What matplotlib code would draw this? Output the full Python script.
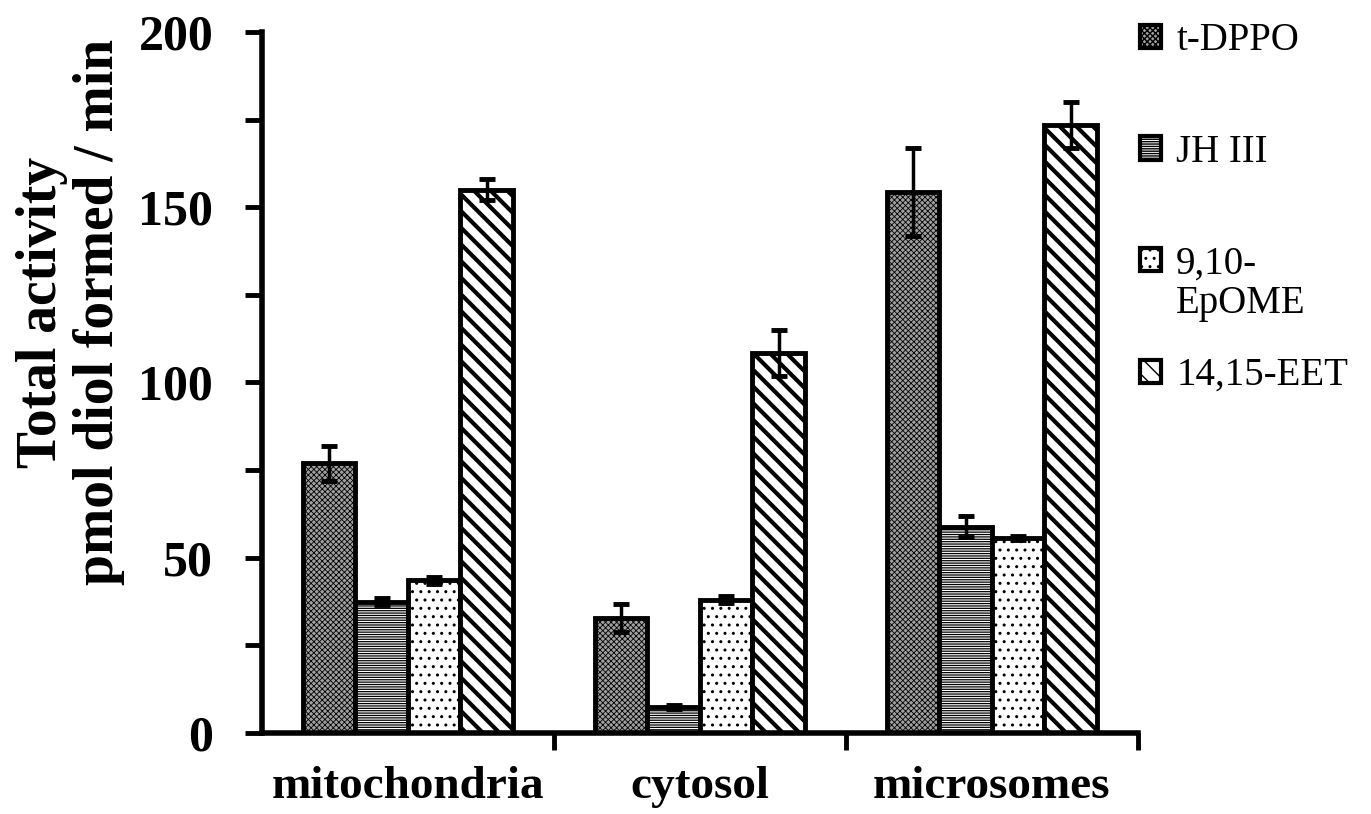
import matplotlib
matplotlib.use("Agg")
import matplotlib.pyplot as plt
import numpy as np

categories = ["mitochondria", "cytosol", "microsomes"]
series = ["t-DPPO", "JH III", "9,10-EpOME", "14,15-EET"]
legend_labels = ["t-DPPO", "JH III", "9,10-", "14,15-EET"]
values = {
    "t-DPPO": [77, 32.8, 154.4],
    "JH III": [37.4, 7.4, 58.8],
    "9,10-EpOME": [43.6, 38, 55.6],
    "14,15-EET": [155, 108.4, 173.5],
}
errors = {
    "t-DPPO": [5, 4, 12.5],
    "JH III": [1, 0.5, 3],
    "9,10-EpOME": [1, 1, 0.5],
    "14,15-EET": [3, 6.5, 6.5],
}
yticks = [0, 50, 100, 150, 200]

styles = {
    "t-DPPO": dict(facecolor="#a0a0a0", hatch="xxxxxx", hlw=0.6),
    "JH III": dict(facecolor="white", hatch="-------", hlw=0.9),
    "9,10-EpOME": dict(facecolor="white", hatch="..", hlw=1.0),
    "14,15-EET": dict(facecolor="white", hatch="\\\\", hlw=3.0),
}

plt.rcParams["font.family"] = ["Liberation Serif", "DejaVu Serif"]

fig = plt.figure(figsize=(13.71, 8.14), dpi=100)
ax = fig.add_axes([0.191, 0.0995, 0.639, 0.8612])

x = np.arange(len(categories))
w = 0.18
offsets = (np.arange(len(series)) - 1.5) * w
handles = []
for i, s in enumerate(series):
    st = styles[s]
    with plt.rc_context({"hatch.linewidth": st["hlw"]}):
        bars = ax.bar(x + offsets[i], values[s], width=w, facecolor=st["facecolor"],
                      edgecolor="black", hatch=st["hatch"], linewidth=3.5, label=s, zorder=2)
        for b in bars:
            try:
                b.set_hatch_linewidth(st["hlw"])
            except Exception:
                pass
    handles.append(bars)
    ax.errorbar(x + offsets[i], values[s], yerr=errors[s], fmt="none", ecolor="black",
                elinewidth=2.5, capsize=6, capthick=3.5, zorder=3)

ax.set_xlim(-0.5, 2.5)
ax.set_ylim(0, 200)
ax.set_yticks(yticks)
ax.set_yticklabels([str(t) for t in yticks], fontsize=36, fontweight="bold")
ax.set_yticks([25, 75, 125, 175], minor=True)
ax.tick_params(axis="y", which="both", direction="out", length=12, width=3.5, pad=23)
ax.set_xticks(x)
ax.set_xticklabels(categories, fontsize=34, fontweight="bold")
ax.set_xticks([0.5, 1.5, 2.5], minor=True)
ax.tick_params(axis="x", which="major", length=0, pad=24)
ax.tick_params(axis="x", which="minor", direction="out", length=12, width=3.5)
for sp in ["top", "right"]:
    ax.spines[sp].set_visible(False)
for sp in ["left", "bottom"]:
    ax.spines[sp].set_linewidth(4)

ax.set_ylabel("Total activity\npmol diol formed / min", fontsize=40, fontweight="bold",
              linespacing=1.12)
ax.yaxis.set_label_coords(-0.156, 0.60)

leg = fig.legend(handles=handles, labels=legend_labels, loc="upper left",
                 bbox_to_anchor=(0.8315, 0.973), frameon=False, fontsize=28,
                 handlelength=0.55, handleheight=0.55, handletextpad=0.38,
                 labelspacing=1.92, borderpad=0, borderaxespad=0)
for h in leg.legend_handles:
    h.set_linewidth(3)

ep_text = leg.get_texts()[2]
fig.canvas.draw()
ax.annotate("EpOME", xy=(0, 0), xycoords=ep_text, xytext=(0, -2),
            textcoords="offset points", va="top", ha="left", fontsize=28,
            annotation_clip=False)

fig.savefig("out.png", dpi=100)
